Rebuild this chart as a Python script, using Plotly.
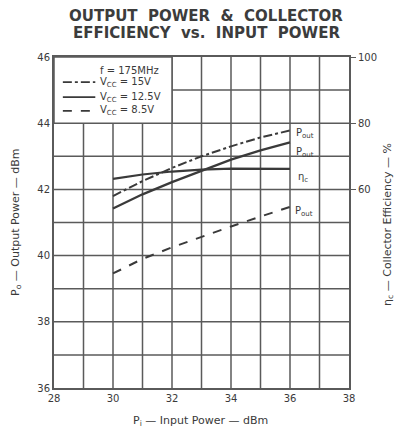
import plotly.graph_objects as go

pin = [30, 31, 32, 33, 34, 35, 36]
pout_15v = [41.8, 42.25, 42.65, 43.0, 43.3, 43.57, 43.78]
pout_12v5 = [41.42, 41.85, 42.22, 42.55, 42.9, 43.18, 43.42]
pout_8v5 = [39.46, 39.9, 40.25, 40.57, 40.88, 41.18, 41.47]
eff_12v5 = [63.2, 64.5, 65.4, 66.0, 66.3, 66.3, 66.2]

x_ticks = [28, 30, 32, 34, 36, 38]
y_ticks = [36, 38, 40, 42, 44, 46]
y2_ticks = [60, 80, 100]

ink = "#3a3a3a"
grid = "#5a5a5a"
font = "DejaVu Sans"

W, H = 401, 432
L, R, T, B = 54, 52, 57, 44
plot_w = W - L - R
plot_h = H - T - B

fig = go.Figure()
fig.add_trace(go.Scatter(x=pin, y=pout_15v, mode="lines",
                         line=dict(color=ink, width=2, dash="dashdot"), showlegend=False))
fig.add_trace(go.Scatter(x=pin, y=pout_12v5, mode="lines",
                         line=dict(color=ink, width=2.2), showlegend=False))
fig.add_trace(go.Scatter(x=pin, y=pout_8v5, mode="lines",
                         line=dict(color=ink, width=2, dash="dash"), showlegend=False))
fig.add_trace(go.Scatter(x=pin, y=eff_12v5, mode="lines", yaxis="y2",
                         line=dict(color=ink, width=2.2), showlegend=False))

# legend box (white area covering grid)
fig.add_shape(type="rect", xref="x", yref="y", x0=28, x1=32, y0=44, y1=46,
              fillcolor="white", line=dict(color=grid, width=1.5), layer="above")
leg_items = [("dashdot", "V<sub>CC</sub> = 15V", 45.24),
             ("solid", "V<sub>CC</sub> = 12.5V", 44.79),
             ("dash", "V<sub>CC</sub> = 8.5V", 44.37)]
fig.add_annotation(x=29.5, y=45.58, xref="x", yref="y", text="f = 175MHz",
                   showarrow=False, xanchor="left", font=dict(size=10, color=ink, family=font))
for d, t, yy in leg_items:
    fig.add_shape(type="line", xref="x", yref="y", x0=28.3, x1=29.4, y0=yy, y1=yy,
                  line=dict(color=ink, width=1.8, dash=d), layer="above")
    fig.add_annotation(x=29.5, y=yy, xref="x", yref="y", text=t, showarrow=False,
                       xanchor="left", font=dict(size=10, color=ink, family=font))

# curve labels
labels = [(36.15, 43.7, "P<sub>out</sub>"), (36.15, 43.13, "P<sub>out</sub>"),
          (36.2, 42.37, "η<sub>c</sub>"), (36.1, 41.32, "P<sub>out</sub>")]
for xx, yy, t in labels:
    fig.add_annotation(x=xx, y=yy, xref="x", yref="y", text=t, showarrow=False,
                       xanchor="left", font=dict(size=10, color=ink, family=font))

# title lines
for txt, py in [("<b>OUTPUT  POWER  &  COLLECTOR</b>", 16), ("<b>EFFICIENCY  vs.  INPUT  POWER</b>", 33)]:
    fig.add_annotation(x=(206 - L) / plot_w, y=1 + (T - py) / plot_h,
                       xref="paper", yref="paper", text=txt, showarrow=False,
                       xanchor="center", yanchor="middle",
                       font=dict(size=15, family=font, color="#3c3c3c"))

# axis titles as annotations
fig.add_annotation(x=(200 - L) / plot_w, y=-(421 - (H - B)) / plot_h, xref="paper", yref="paper",
                   text="P<sub>i</sub> — Input Power — dBm", showarrow=False,
                   xanchor="center", yanchor="middle", font=dict(size=11, family=font, color=ink))
fig.add_annotation(x=-(L - 16) / plot_w, y=((H - B) - 222) / plot_h, xref="paper", yref="paper",
                   text="P<sub>o</sub> — Output Power — dBm", showarrow=False, textangle=-90,
                   xanchor="center", yanchor="middle", font=dict(size=11, family=font, color=ink))
fig.add_annotation(x=1 + (388 - (W - R)) / plot_w, y=((H - B) - 225) / plot_h, xref="paper", yref="paper",
                   text="η<sub>c</sub> — Collector Efficiency — %", showarrow=False, textangle=-90,
                   xanchor="center", yanchor="middle", font=dict(size=11, family=font, color=ink))

fig.update_layout(
    width=W, height=H,
    margin=dict(l=L, r=R, t=T, b=B, autoexpand=False),
    paper_bgcolor="white", plot_bgcolor="white",
    font=dict(family=font, color=ink, size=10),
    xaxis=dict(range=[28, 38], tickvals=x_ticks, ticktext=[str(v) for v in x_ticks],
               showgrid=False, showline=True, linecolor=grid, linewidth=2, mirror=True,
               ticks="", zeroline=False, automargin=False, tickfont=dict(size=10)),
    yaxis=dict(range=[36, 46], tickvals=y_ticks, showgrid=False, showline=True,
               linecolor=grid, linewidth=2, mirror=True, ticks="", zeroline=False,
               automargin=False, tickfont=dict(size=10)),
    yaxis2=dict(range=[0, 100], overlaying="y", side="right", tickvals=y2_ticks,
                showgrid=False, ticks="outside", ticklen=6, tickcolor=grid, zeroline=False,
                automargin=False, tickfont=dict(size=10)),
)

# grid lines at every integer
for gx in range(29, 38):
    fig.add_shape(type="line", xref="x", yref="paper", x0=gx, x1=gx, y0=0, y1=1,
                  line=dict(color=grid, width=1.5), layer="below")
for gy in range(37, 46):
    fig.add_shape(type="line", xref="paper", yref="y", x0=0, x1=1, y0=gy, y1=gy,
                  line=dict(color=grid, width=1.5), layer="below")

fig.write_html("out.html", config={"displayModeBar": False},
               post_script="document.body.style.margin='0';document.body.style.overflow='hidden';")
